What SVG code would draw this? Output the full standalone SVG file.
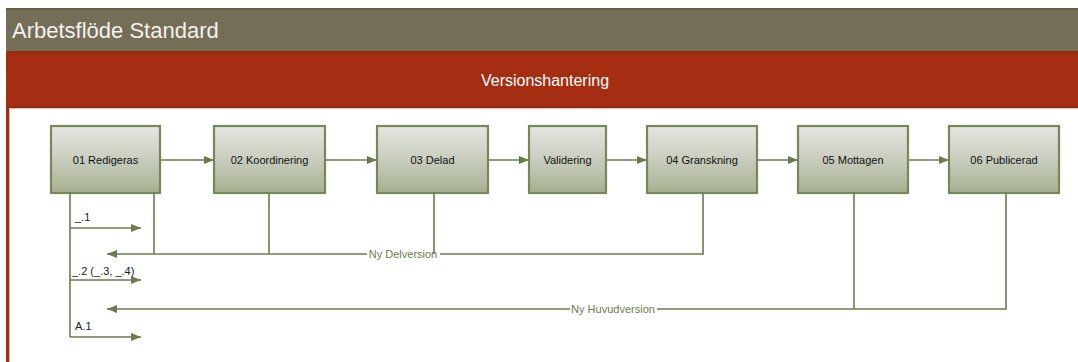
<svg xmlns="http://www.w3.org/2000/svg" width="1078" height="362" viewBox="0 0 1078 362">
<defs>
<linearGradient id="boxg" x1="0" y1="0" x2="0" y2="1">
<stop offset="0" stop-color="#E4E6E1"/>
<stop offset="0.45" stop-color="#CBD0C2"/>
<stop offset="1" stop-color="#A6B08F"/>
</linearGradient>
<marker id="arr" markerWidth="10" markerHeight="8" refX="10" refY="4" orient="auto" markerUnits="userSpaceOnUse">
<path d="M0,0 L10,4 L0,8 Z" fill="#6B7B4E"/>
</marker>
<style>
.box{fill:url(#boxg);stroke:#77875A;stroke-width:2.2}
.nt{font-family:"Liberation Sans",Arial,sans-serif;font-size:11px;fill:#111111;text-anchor:middle}
.ln{fill:none;stroke:#6B7B4E;stroke-width:1.6}
.lbl{font-family:"Liberation Sans",Arial,sans-serif;font-size:11px;fill:#1a1a1a}
.gl{font-family:"Liberation Sans",Arial,sans-serif;font-size:11px;fill:#6B7B4E;text-anchor:middle}
</style>
</defs>
<rect x="0" y="0" width="1078" height="362" fill="#FFFFFF"/>
<g id="header">
<rect x="6" y="8" width="1072" height="43" fill="#746E57"/>
<rect x="6" y="8" width="1072" height="1.5" fill="#5E5944"/>
<text x="12" y="38" font-family="Liberation Sans,Arial,sans-serif" font-size="22" fill="#F2F2EE">Arbetsflöde Standard</text>
</g>
<g id="band">
<rect x="6" y="51" width="1072" height="57" fill="#A52D12"/>
<rect x="6" y="51" width="1072" height="1.5" fill="#8E2A12"/>
<rect x="6" y="106.5" width="1072" height="1.5" fill="#8E2A12"/>
<rect x="6" y="108" width="1072" height="1" fill="#E9B9AE"/>
<rect x="6" y="51" width="3" height="311" fill="#A52D12"/>
<rect x="9" y="108" width="1" height="254" fill="#E9B9AE"/>
<text x="545" y="86" font-family="Liberation Sans,Arial,sans-serif" font-size="16" fill="#FFFFFF" text-anchor="middle">Versionshantering</text>
</g>
<g id="connectors">
<line class="ln" x1="160" y1="160" x2="214" y2="160" marker-end="url(#arr)"/>
<line class="ln" x1="325" y1="160" x2="377" y2="160" marker-end="url(#arr)"/>
<line class="ln" x1="488" y1="160" x2="529" y2="160" marker-end="url(#arr)"/>
<line class="ln" x1="606" y1="160" x2="647" y2="160" marker-end="url(#arr)"/>
<line class="ln" x1="757" y1="160" x2="798" y2="160" marker-end="url(#arr)"/>
<line class="ln" x1="908" y1="160" x2="949" y2="160" marker-end="url(#arr)"/>
<polyline class="ln" points="70,193 70,337"/>
<line class="ln" x1="70" y1="228" x2="141" y2="228" marker-end="url(#arr)"/>
<line class="ln" x1="70" y1="280" x2="141" y2="280" marker-end="url(#arr)"/>
<line class="ln" x1="70" y1="337" x2="141" y2="337" marker-end="url(#arr)"/>
<polyline class="ln" points="703,193 703,254 440,254"/>
<line class="ln" x1="367" y1="254" x2="107" y2="254" marker-end="url(#arr)"/>
<line class="ln" x1="154" y1="193" x2="154" y2="254"/>
<line class="ln" x1="269" y1="193" x2="269" y2="254"/>
<line class="ln" x1="434" y1="193" x2="434" y2="254"/>
<text class="gl" x="403" y="258">Ny Delversion</text>
<polyline class="ln" points="1006,193 1006,309 657,309"/>
<line class="ln" x1="570" y1="309" x2="107" y2="309" marker-end="url(#arr)"/>
<line class="ln" x1="854" y1="193" x2="854" y2="309"/>
<text class="gl" x="613" y="313">Ny Huvudversion</text>
<text class="lbl" x="75" y="221">_.1</text>
<text class="lbl" x="72" y="275">_.2 (_.3, _.4)</text>
<text class="lbl" x="75" y="330">A.1</text>
</g>
<g id="n01"><rect class="box" x="51" y="126" width="109" height="67"/><text class="nt" x="105.5" y="164">01 Redigeras</text></g>
<g id="n02"><rect class="box" x="214" y="126" width="111" height="67"/><text class="nt" x="269.5" y="164">02 Koordinering</text></g>
<g id="n03"><rect class="box" x="377" y="126" width="111" height="67"/><text class="nt" x="432.5" y="164">03 Delad</text></g>
<g id="nval"><rect class="box" x="529" y="126" width="77" height="67"/><text class="nt" x="567.5" y="164">Validering</text></g>
<g id="n04"><rect class="box" x="647" y="126" width="110" height="67"/><text class="nt" x="702" y="164">04 Granskning</text></g>
<g id="n05"><rect class="box" x="798" y="126" width="110" height="67"/><text class="nt" x="853" y="164">05 Mottagen</text></g>
<g id="n06"><rect class="box" x="949" y="126" width="110" height="67"/><text class="nt" x="1004" y="164">06 Publicerad</text></g>
</svg>
